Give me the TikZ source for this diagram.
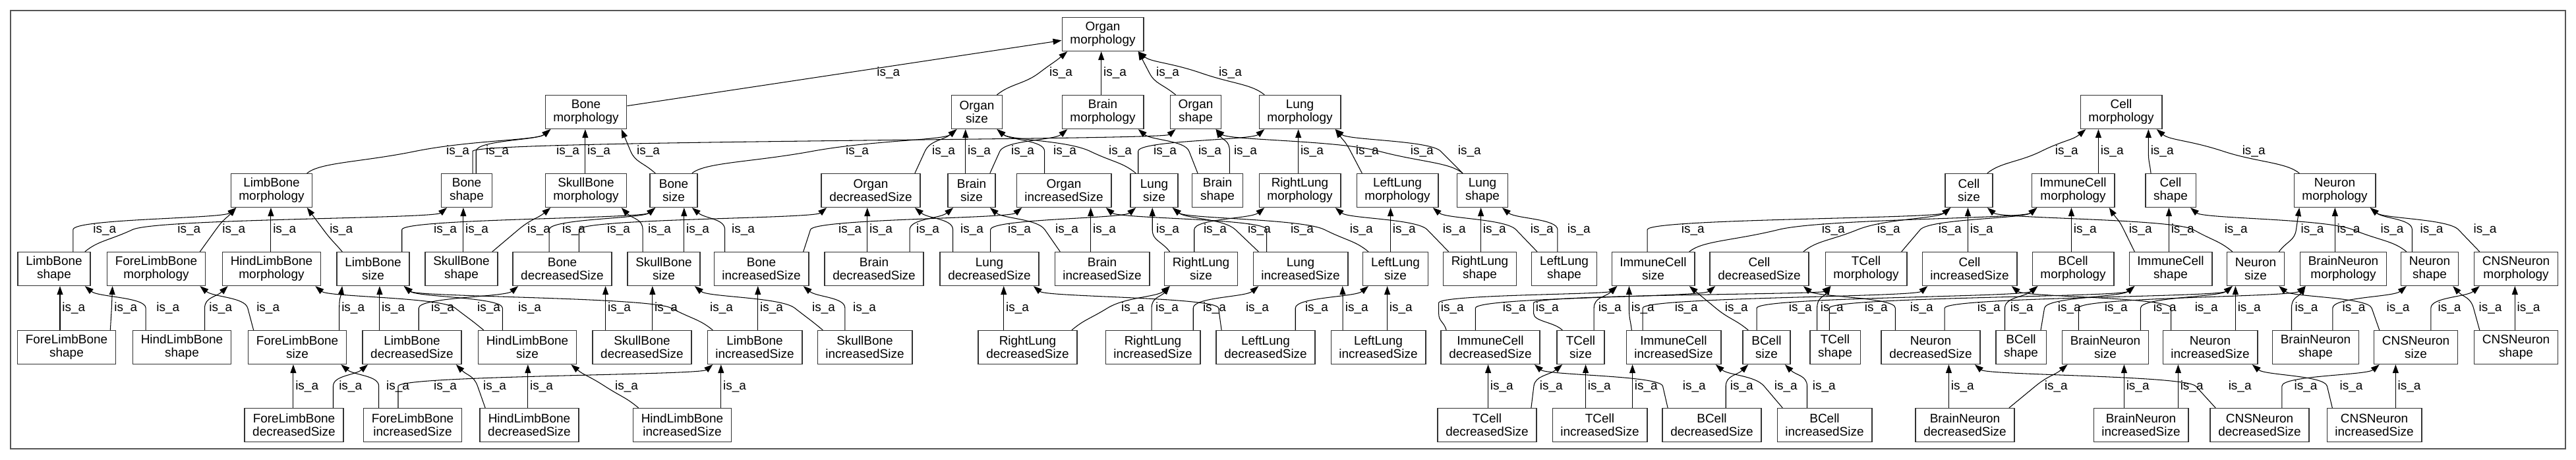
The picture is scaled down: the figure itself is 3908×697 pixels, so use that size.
\documentclass[tikz,border=0pt]{standalone}
\usepackage{fontspec}
\setmainfont{Liberation Sans}
\usetikzlibrary{arrows.meta}
\definecolor{boxline}{HTML}{333333}
\definecolor{frameline}{HTML}{555555}
\tikzset{box/.style={draw=boxline,fill=white,line width=0.7pt,align=center,font=\fontsize{10.8}{11.4}\selectfont,inner xsep=7pt,inner ysep=1pt,minimum height=1.02cm,minimum width=1.44cm}, isa/.style={-{Triangle[length=0.26cm,width=0.18cm]},line width=0.6pt,draw=black}, lbl/.style={anchor=west,inner xsep=1.7pt,inner ysep=0pt,font=\fontsize{10.8}{11.4}\selectfont}}
\newdimen\isaD
\newcount\isaN
% child, parent, x of the label (px)
\newcommand\isa[3]{%
  \global\advance\isaN by 1
  \pgfextractx{\isaD}{\pgfpointanchor{#1}{north west}}\pgfmathsetmacro\isaCL{\isaD}%
  \pgfextractx{\isaD}{\pgfpointanchor{#1}{north east}}\pgfmathsetmacro\isaCR{\isaD}%
  \pgfextracty{\isaD}{\pgfpointanchor{#1}{north}}\pgfmathsetmacro\isaCY{\isaD}%
  \pgfextractx{\isaD}{\pgfpointanchor{#2}{south west}}\pgfmathsetmacro\isaPL{\isaD}%
  \pgfextractx{\isaD}{\pgfpointanchor{#2}{south east}}\pgfmathsetmacro\isaPR{\isaD}%
  \pgfextracty{\isaD}{\pgfpointanchor{#2}{south}}\pgfmathsetmacro\isaPY{\isaD}%
  \pgfmathsetmacro\isaL{#3*0.569055}%
  \pgfmathsetmacro\isaDY{\isaPY-\isaCY}%
  \pgfmathsetmacro\isaM{(\isaCY+\isaPY)/2}%
  \pgfmathsetmacro\isaS{max(\isaCL+5,min(\isaCR-5,\isaL))}%
  \pgfmathsetmacro\isaE{max(\isaPL+5,min(\isaPR-5,\isaL))}%
  \pgfmathsetmacro\isaW{\isaL-1.7-4.5*abs(\isaE-\isaS)/\isaDY}%
  \pgfmathsetmacro\isaS{max(\isaCL+5,min(\isaCR-5,\isaW))}%
  \pgfmathsetmacro\isaE{max(\isaPL+5,min(\isaPR-5,\isaW))}%
  \pgfmathtruncatemacro\isaIn{(\isaW>=min(\isaS,\isaE)-1)&&(\isaW<=max(\isaS,\isaE)+1)}%
  \ifnum\isaIn=1
    \pgfmathsetmacro\isaH{0.25*\isaDY}%
    \pgfmathsetmacro\isaT{(\isaE-\isaS)*\isaH/\isaDY}%
    \pgfmathsetmacro\isaT{max(-0.5*abs(\isaW-\isaS),min(0.5*abs(\isaW-\isaS),\isaT))}%
    \pgfmathsetmacro\isaT{max(-0.5*abs(\isaE-\isaW),min(0.5*abs(\isaE-\isaW),\isaT))}%
    \pgfmathsetmacro\isaWa{\isaW-\isaT}\pgfmathsetmacro\isaWb{\isaW+\isaT}%
    \pgfmathsetmacro\isaA{\isaS+max(-1.2*\isaH,min(1.2*\isaH,0.5*(\isaW-\isaS)))}%
    \pgfmathsetmacro\isaB{\isaE-max(-1.2*\isaH,min(1.2*\isaH,0.5*(\isaE-\isaW)))}%
    \draw[isa] ({\isaS pt},{\isaCY pt})
      .. controls ({\isaA pt},{\isaCY pt+\isaH pt}) and ({\isaWa pt},{\isaM pt-\isaH pt}) .. ({\isaW pt},{\isaM pt})
      .. controls ({\isaWb pt},{\isaM pt+\isaH pt}) and ({\isaB pt},{\isaPY pt-\isaH pt}) .. ({\isaE pt},{\isaPY pt});
  \else
    \pgfmathsetmacro\isaW{\isaL-1.7}%
    \pgfmathsetmacro\isaS{max(\isaCL+5,min(\isaCR-5,\isaW))}%
    \pgfmathsetmacro\isaE{max(\isaPL+5,min(\isaPR-5,\isaW))}%
    \pgfmathsetmacro\isaH{0.5*(\isaDY/2-4.5)}%
    \pgfmathsetmacro\isaA{\isaS+max(-1.2*\isaH,min(1.2*\isaH,0.3*(\isaW-\isaS)))}%
    \pgfmathsetmacro\isaB{\isaE-max(-1.2*\isaH,min(1.2*\isaH,0.3*(\isaE-\isaW)))}%
    \draw[isa] ({\isaS pt},{\isaCY pt})
      .. controls ({\isaA pt},{\isaCY pt+\isaH pt}) and ({\isaW pt},{\isaM pt-4.5pt-\isaH pt}) .. ({\isaW pt},{\isaM pt-4.5pt})
      -- ({\isaW pt},{\isaM pt+4.5pt})
      .. controls ({\isaW pt},{\isaM pt+4.5pt+\isaH pt}) and ({\isaB pt},{\isaPY pt-\isaH pt}) .. ({\isaE pt},{\isaPY pt});
  \fi
  \node[lbl] (isa\the\isaN) at ({\isaL pt-1.7pt},{\isaM pt}) {is\_a};}
\begin{document}
\begin{tikzpicture}[x=0.02cm,y=0.02cm]
\useasboundingbox (0,0) rectangle (3908,-697);
\draw[frameline,line width=1.1pt] (16,-16) rectangle (3892,-681);
% rank 0
\node[box] (om) at (1673,-52) {Organ\\morphology};
% rank 1
\node[box] (bm) at (889,-170) {Bone\\morphology};
\node[box] (osz) at (1482,-170) {Organ\\size};
\node[box] (brm) at (1673,-170) {Brain\\morphology};
\node[box] (osh) at (1814,-170) {Organ\\shape};
\node[box] (lm) at (1972,-170) {Lung\\morphology};
\node[box] (cm) at (3218,-170) {Cell\\morphology};
% rank 2
\node[box] (lbm) at (412,-289) {LimbBone\\morphology};
\node[box] (bsh) at (708,-289) {Bone\\shape};
\node[box] (sbm) at (889,-289) {SkullBone\\morphology};
\node[box] (bsz) at (1022,-289) {Bone\\size};
\node[box] (ods) at (1321,-289) {Organ\\decreasedSize};
\node[box] (brsz) at (1474,-289) {Brain\\size};
\node[box] (ois) at (1614,-289) {Organ\\increasedSize};
\node[box] (lsz) at (1751,-289) {Lung\\size};
\node[box] (brsh) at (1847,-289) {Brain\\shape};
\node[box] (rlm) at (1972,-289) {RightLung\\morphology};
\node[box] (llm) at (2120,-289) {LeftLung\\morphology};
\node[box] (lsh) at (2249,-289) {Lung\\shape};
\node[box] (csz) at (2987,-289) {Cell\\size};
\node[box] (icm) at (3145,-289) {ImmuneCell\\morphology};
\node[box] (csh) at (3293,-289) {Cell\\shape};
\node[box] (nm) at (3542,-289) {Neuron\\morphology};
% rank 3
\node[box] (lbsh) at (82,-408) {LimbBone\\shape};
\node[box] (flbm) at (237,-408) {ForeLimbBone\\morphology};
\node[box] (hlbm) at (412,-408) {HindLimbBone\\morphology};
\node[box] (lbsz) at (566,-408) {LimbBone\\size};
\node[box] (sbsh) at (700,-408) {SkullBone\\shape};
\node[box] (bds) at (853,-408) {Bone\\decreasedSize};
\node[box] (sbsz) at (1007,-408) {SkullBone\\size};
\node[box] (bis) at (1155,-408) {Bone\\increasedSize};
\node[box] (brds) at (1326,-408) {Brain\\decreasedSize};
\node[box] (lds) at (1501,-408) {Lung\\decreasedSize};
\node[box] (bris) at (1672,-408) {Brain\\increasedSize};
\node[box] (rlsz) at (1822,-408) {RightLung\\size};
\node[box] (lis) at (1973,-408) {Lung\\increasedSize};
\node[box] (llsz) at (2117,-408) {LeftLung\\size};
\node[box] (rlsh) at (2245,-408) {RightLung\\shape};
\node[box] (llsh) at (2373,-408) {LeftLung\\shape};
\node[box] (icsz) at (2508,-408) {ImmuneCell\\size};
\node[box] (cds) at (2669,-408) {Cell\\decreasedSize};
\node[box] (tcm) at (2831,-408) {TCell\\morphology};
\node[box] (cis) at (2988,-408) {Cell\\increasedSize};
\node[box] (bcm) at (3145,-408) {BCell\\morphology};
\node[box] (icsh) at (3293,-408) {ImmuneCell\\shape};
\node[box] (nsz) at (3422,-408) {Neuron\\size};
\node[box] (bnm) at (3555,-408) {BrainNeuron\\morphology};
\node[box] (nsh) at (3686,-408) {Neuron\\shape};
\node[box] (cnm) at (3817,-408) {CNSNeuron\\morphology};
% rank 4
\node[box] (flbsh) at (101,-527) {ForeLimbBone\\shape};
\node[box] (hlbsh) at (276,-527) {HindLimbBone\\shape};
\node[box] (flbsz) at (451,-527) {ForeLimbBone\\size};
\node[box] (lbds) at (625,-527) {LimbBone\\decreasedSize};
\node[box] (hlbsz) at (800,-527) {HindLimbBone\\size};
\node[box] (sbds) at (974,-527) {SkullBone\\decreasedSize};
\node[box] (lbis) at (1145,-527) {LimbBone\\increasedSize};
\node[box] (sbis) at (1312,-527) {SkullBone\\increasedSize};
\node[box] (rlds) at (1559,-527) {RightLung\\decreasedSize};
\node[box] (rlis) at (1749,-527) {RightLung\\increasedSize};
\node[box] (llds) at (1920,-527) {LeftLung\\decreasedSize};
\node[box] (llis) at (2091,-527) {LeftLung\\increasedSize};
\node[box] (icds) at (2261,-527) {ImmuneCell\\decreasedSize};
\node[box] (tcsz) at (2398,-527) {TCell\\size};
\node[box] (icis) at (2539,-527) {ImmuneCell\\increasedSize};
\node[box] (bcsz) at (2680,-527) {BCell\\size};
\node[box] (tcsh) at (2784,-527) {TCell\\shape};
\node[box] (nds) at (2929,-527) {Neuron\\decreasedSize};
\node[box] (bcsh) at (3066,-527) {BCell\\shape};
\node[box] (bnsz) at (3194,-527) {BrainNeuron\\size};
\node[box] (nis) at (3353,-527) {Neuron\\increasedSize};
\node[box] (bnsh) at (3513,-527) {BrainNeuron\\shape};
\node[box] (cnsz) at (3665,-527) {CNSNeuron\\size};
\node[box] (cnsh) at (3817,-527) {CNSNeuron\\shape};
% rank 5
\node[box] (flbds) at (446,-645) {ForeLimbBone\\decreasedSize};
\node[box] (flbis) at (626,-645) {ForeLimbBone\\increasedSize};
\node[box] (hlbds) at (803,-645) {HindLimbBone\\decreasedSize};
\node[box] (hlbis) at (1035,-645) {HindLimbBone\\increasedSize};
\node[box] (tcds) at (2256,-645) {TCell\\decreasedSize};
\node[box] (tcis) at (2427,-645) {TCell\\increasedSize};
\node[box] (bcds) at (2597,-645) {BCell\\decreasedSize};
\node[box] (bcis) at (2768,-645) {BCell\\increasedSize};
\node[box] (bnds) at (2981,-645) {BrainNeuron\\decreasedSize};
\node[box] (bnis) at (3248,-645) {BrainNeuron\\increasedSize};
\node[box] (cnds) at (3428,-645) {CNSNeuron\\decreasedSize};
\node[box] (cnis) at (3602,-645) {CNSNeuron\\increasedSize};
% is_a edges
\draw[isa] (bm)--(om); \node[lbl] (isa0) at (1327,-111) {is\_a};
\isa{osz}{om}{1592}\isa{brm}{om}{1674}\isa{osh}{om}{1754}\isa{lm}{om}{1849}
\isa{lbm}{bm}{677}\isa{bsh}{bm}{737}\isa{bsh}{osh}{844}\isa{sbm}{bm}{891}
\isa{bsz}{bm}{966}\isa{bsz}{osz}{1283}\isa{ods}{osz}{1414}\isa{brsz}{osz}{1468}
\isa{brsz}{brm}{1534}\isa{ois}{osz}{1598}\isa{lsz}{osz}{1682}\isa{lsz}{lm}{1750}
\isa{brsh}{brm}{1818}\isa{brsh}{osh}{1872}\isa{rlm}{lm}{1973}\isa{llm}{lm}{2057}
\isa{lsh}{osh}{2140}\isa{lsh}{lm}{2212}
\isa{csz}{cm}{3118}\isa{icm}{cm}{3187}\isa{csh}{cm}{3263}\isa{nm}{cm}{3402}
\isa{lbsh}{lbm}{141}\isa{lbsh}{bsh}{269}\isa{flbm}{lbm}{337}\isa{hlbm}{lbm}{414}
\isa{lbsz}{lbm}{500}\isa{lbsz}{bsz}{658}\isa{sbsh}{bsh}{706}\isa{sbsh}{sbm}{800}
\isa{bds}{bsz}{853}\isa{bds}{ods}{921}\isa{sbsz}{sbm}{983}\isa{sbsz}{bsz}{1041}
\isa{bis}{bsz}{1110}\isa{bis}{ois}{1272}\isa{brds}{ods}{1319}\isa{brds}{brsz}{1390}
\isa{lds}{ods}{1457}\isa{lds}{lsz}{1529}\isa{bris}{brsz}{1601}\isa{bris}{ois}{1658}
\isa{rlsz}{lsz}{1754}\isa{rlsz}{rlm}{1826}\isa{lis}{lsz}{1893}\isa{lis}{ois}{1958}
\isa{llsz}{lsz}{2048}\isa{llsz}{llm}{2113}\isa{rlsh}{rlm}{2189}\isa{rlsh}{lsh}{2250}
\isa{llsh}{llm}{2322}\isa{llsh}{lsh}{2378}
\isa{icsz}{csz}{2551}\isa{icsz}{icm}{2764}\isa{cds}{csz}{2848}\isa{tcm}{icm}{2941}
\isa{cis}{csz}{2989}\isa{bcm}{icm}{3146}\isa{icsh}{icm}{3230}\isa{icsh}{csh}{3294}
\isa{nsz}{csz}{3375}\isa{nsz}{nm}{3491}\isa{bnm}{nm}{3546}\isa{nsh}{csh}{3612}
\isa{nsh}{nm}{3672}\isa{cnm}{nm}{3753}
\isa{flbsh}{lbsh}{94}\isa{flbsh}{flbm}{173}\isa{hlbsh}{lbsh}{237}\isa{hlbsh}{hlbm}{317}
\isa{flbsz}{flbm}{389}\isa{flbsz}{lbsz}{518}\isa{lbds}{lbsz}{579}\isa{lbds}{bds}{654}
\isa{hlbsz}{hlbm}{724}\isa{hlbsz}{lbsz}{786}\isa{sbds}{bds}{922}\isa{sbds}{sbsz}{993}
\isa{lbis}{lbsz}{1077}\isa{lbis}{bis}{1153}\isa{sbis}{sbsz}{1232}\isa{sbis}{bis}{1294}
\isa{rlds}{lds}{1526}\isa{rlds}{rlsz}{1701}\isa{rlis}{rlsz}{1753}\isa{rlis}{lis}{1825}
\isa{llds}{lds}{1890}\isa{llds}{llsz}{1980}\isa{llis}{lis}{2041}\isa{llis}{llsz}{2108}
\isa{icds}{icsz}{2186}\isa{icds}{cds}{2280}\isa{tcsz}{tcm}{2330}\isa{tcsz}{icsz}{2425}
\isa{icis}{icsz}{2475}\isa{icis}{cis}{2541}\isa{bcsz}{icsz}{2617}\isa{bcsz}{bcm}{2714}
\isa{tcsh}{tcm}{2762}\isa{tcsh}{icsh}{2829}\isa{nds}{cds}{2898}\isa{nds}{nsz}{3000}
\isa{bcsh}{bcm}{3050}\isa{bcsh}{icsh}{3122}\isa{bnsz}{bnm}{3193}\isa{bnsz}{nsz}{3267}
\isa{nis}{cis}{3330}\isa{nis}{nsz}{3395}\isa{bnsh}{bnm}{3482}\isa{bnsh}{nsh}{3554}
\isa{cnsz}{nsz}{3621}\isa{cnsz}{cnm}{3699}\isa{cnsh}{nsh}{3761}\isa{cnsh}{cnm}{3819}
\isa{flbds}{flbsz}{448}\isa{flbds}{lbds}{514}\isa{flbis}{flbsz}{586}\isa{flbis}{lbis}{658}
\isa{hlbds}{lbds}{733}\isa{hlbds}{hlbsz}{804}\isa{hlbis}{hlbsz}{933}\isa{hlbis}{lbis}{1097}
\isa{tcds}{icds}{2261}\isa{tcds}{tcsz}{2336}\isa{tcis}{tcsz}{2409}\isa{tcis}{icis}{2480}
\isa{bcds}{icds}{2553}\isa{bcds}{bcsz}{2625}\isa{bcis}{icis}{2692}\isa{bcis}{bcsz}{2750}
\isa{bnds}{nds}{2960}\isa{bnds}{bnsz}{3102}\isa{bnis}{bnsz}{3226}\isa{bnis}{nis}{3308}
\isa{cnds}{nds}{3381}\isa{cnds}{cnsz}{3481}\isa{cnis}{nis}{3550}\isa{cnis}{cnsz}{3638}
\end{tikzpicture}
\end{document}
